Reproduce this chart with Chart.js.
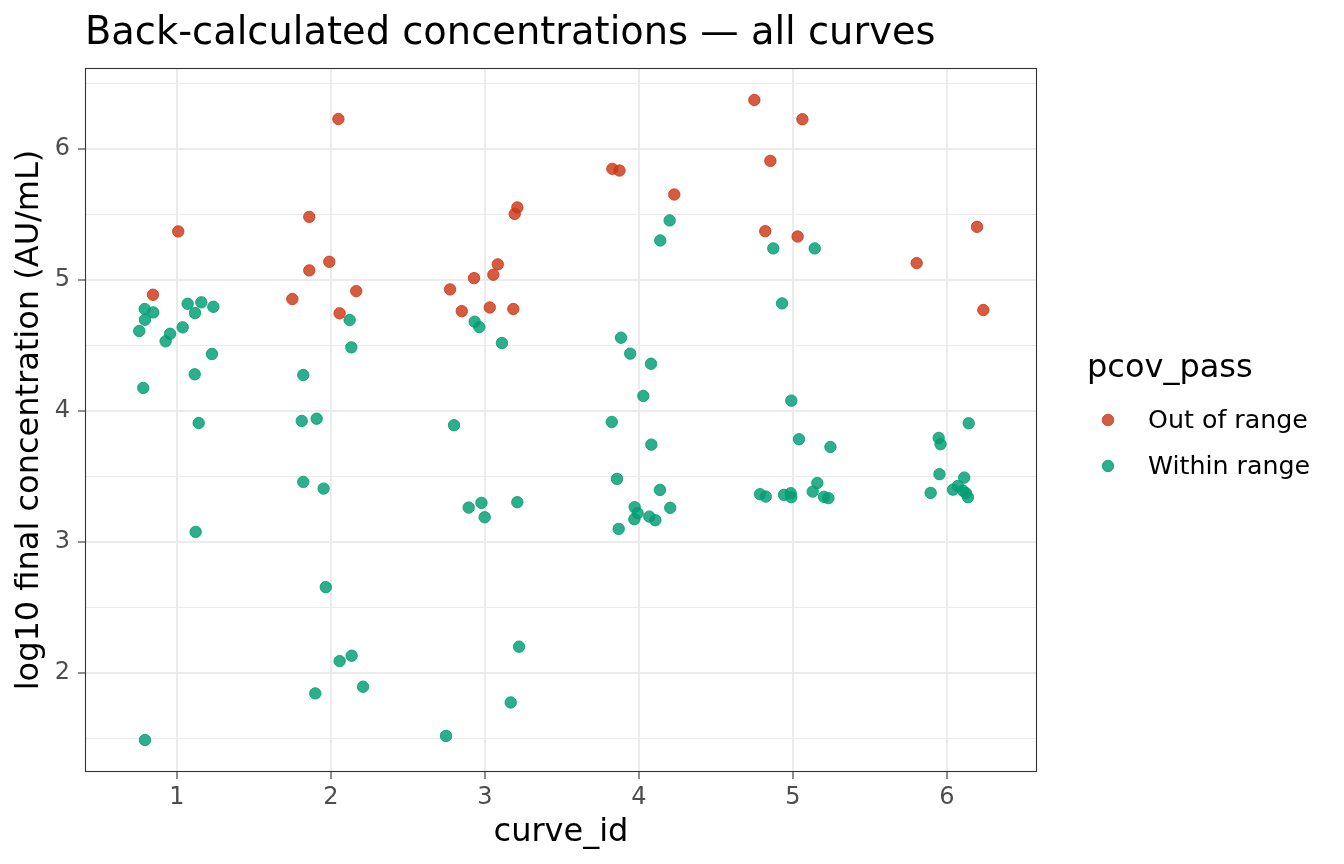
<!DOCTYPE html>
<html>
<head>
<meta charset="utf-8">
<script src="https://cdn.jsdelivr.net/npm/chart.js@4.4.1/dist/chart.umd.min.js"></script>
<style>
  html, body { margin: 0; padding: 0; background: #ffffff; }
  canvas { display: block; }
</style>
</head>
<body>
<canvas id="c" width="1344" height="864"></canvas>
<script>
// ---- data (jittered curve_id position, log10 concentration) ----
const seriesNames = ['Out of range', 'Within range'];
const outX = [0.844, 1.008,
  2.048, 1.859, 1.989, 1.859, 2.164, 1.749, 2.056,
  3.210, 3.193, 3.083, 3.054, 2.929, 2.773, 2.849, 3.031, 3.184,
  3.827, 3.873, 4.229,
  4.749, 5.061, 4.853, 4.820, 5.030,
  5.803, 6.195, 6.236];
const outY = [4.888, 5.372,
  6.231, 5.483, 5.140, 5.074, 4.916, 4.855, 4.746,
  5.555, 5.506, 5.120, 5.041, 5.015, 4.929, 4.763, 4.791, 4.779,
  5.850, 5.837, 5.654,
  6.376, 6.229, 5.911, 5.374, 5.333,
  5.130, 5.407, 4.771];
const inX = [0.790, 0.846, 0.792, 0.755, 0.955, 0.926, 1.037, 1.069, 1.158, 1.117, 1.236, 1.227, 1.115, 0.781, 1.141, 0.792, 1.121,
  2.121, 2.132, 1.820, 1.810, 1.907, 1.820, 1.952, 1.966, 2.056, 2.134, 1.898, 2.208,
  2.933, 2.963, 3.110, 2.799, 2.894, 2.977, 2.998, 3.210, 3.221, 3.167, 2.747,
  4.199, 4.138, 3.883, 3.943, 4.078, 4.028, 3.823, 4.080, 3.857, 4.136, 3.972, 3.991, 3.970, 4.067, 4.106, 4.203, 3.868,
  4.872, 5.141, 4.929, 4.989, 5.039, 5.243, 4.786, 4.823, 4.942, 4.985, 4.989, 5.158, 5.128, 5.201, 5.230,
  6.141, 5.946, 5.958, 5.951, 6.112, 5.894, 6.039, 6.071, 6.104, 6.123, 6.136];
const inY = [4.779, 4.753, 4.697, 4.611, 4.590, 4.532, 4.639, 4.819, 4.830, 4.748, 4.796, 4.435, 4.280, 4.176, 3.908, 1.486, 3.076,
  4.695, 4.486, 4.275, 3.924, 3.941, 3.458, 3.407, 2.654, 2.089, 2.130, 1.842, 1.893,
  4.682, 4.641, 4.519, 3.891, 3.262, 3.298, 3.188, 3.303, 2.199, 1.773, 1.517,
  5.456, 5.303, 4.560, 4.438, 4.361, 4.115, 3.916, 3.743, 3.481, 3.397, 3.265, 3.219, 3.173, 3.193, 3.165, 3.260, 3.099,
  5.242, 5.242, 4.822, 4.079, 3.784, 3.725, 3.364, 3.346, 3.359, 3.372, 3.341, 3.450, 3.384, 3.344, 3.334,
  3.906, 3.794, 3.746, 3.517, 3.491, 3.374, 3.399, 3.427, 3.391, 3.372, 3.341];

const xTickValues = [1, 2, 3, 4, 5, 6];
const xTickLabels = ['1', '2', '3', '4', '5', '6'];
const yTickValues = [1.5, 2, 2.5, 3, 3.5, 4, 4.5, 5, 5.5, 6, 6.5];
const yTickLabels = ['', '2', '', '3', '', '4', '', '5', '', '6', ''];

const titleText = 'Back-calculated concentrations \u2014 all curves';
const xTitle = 'curve_id';
const yTitle = 'log10 final concentration (AU/mL)';
const legendTitle = 'pcov_pass';

const FONT = '"DejaVu Sans", "Liberation Sans", sans-serif';
const colFill = ['rgba(204,56,22,0.82)', 'rgba(0,158,115,0.82)'];
const colEdge = ['rgba(204,56,22,0.85)', 'rgba(0,158,115,0.85)'];

function pts(xs, ys) { return xs.map((x, i) => ({ x: x, y: ys[i] })); }

const decor = {
  id: 'decor',
  afterDraw(chart) {
    const ctx = chart.ctx;
    const a = chart.chartArea;
    ctx.save();
    // panel border
    ctx.strokeStyle = '#333333';
    ctx.lineWidth = 1.1;
    ctx.strokeRect(a.left + 0.5, a.top + 0.5, a.right - a.left - 1, a.bottom - a.top - 1);
    // title
    ctx.fillStyle = '#000000';
    ctx.textBaseline = 'alphabetic';
    ctx.textAlign = 'left';
    ctx.font = '38.4px ' + FONT;
    ctx.fillText(titleText, 85, 44);
    // x title
    ctx.font = '32px ' + FONT;
    ctx.textAlign = 'center';
    ctx.fillText(xTitle, (a.left + a.right) / 2, 841);
    // y title
    ctx.save();
    ctx.translate(38, (a.top + a.bottom) / 2);
    ctx.rotate(-Math.PI / 2);
    ctx.fillText(yTitle, 0, 0);
    ctx.restore();
    // legend
    ctx.textAlign = 'left';
    ctx.font = '32px ' + FONT;
    ctx.fillText(legendTitle, 1087, 377);
    ctx.font = '25.3px ' + FONT;
    const ly = [420, 466];
    for (let i = 0; i < 2; i++) {
      ctx.beginPath();
      ctx.arc(1108, ly[i], 5.7, 0, Math.PI * 2);
      ctx.fillStyle = colFill[i];
      ctx.fill();
      ctx.lineWidth = 1;
      ctx.strokeStyle = colEdge[i];
      ctx.stroke();
      ctx.fillStyle = '#000000';
      ctx.textBaseline = 'middle';
      ctx.fillText(seriesNames[i], 1148, ly[i] + 1);
    }
    ctx.restore();
  }
};

new Chart(document.getElementById('c'), {
  type: 'scatter',
  data: {
    datasets: [
      { label: seriesNames[0], data: pts(outX, outY), backgroundColor: colFill[0], borderColor: colEdge[0], borderWidth: 1, pointRadius: 5.7, pointHoverRadius: 5.7 },
      { label: seriesNames[1], data: pts(inX, inY), backgroundColor: colFill[1], borderColor: colEdge[1], borderWidth: 1, pointRadius: 5.7, pointHoverRadius: 5.7 }
    ]
  },
  plugins: [decor],
  options: {
    responsive: false,
    animation: false,
    events: [],
    layout: { padding: { top: 68, right: 307, left: 0, bottom: 0 } },
    plugins: { legend: { display: false }, title: { display: false }, tooltip: { enabled: false } },
    scales: {
      x: {
        type: 'linear', min: 0.4026, max: 6.5844,
        afterBuildTicks: s => { s.ticks = xTickValues.map(v => ({ value: v })); },
        afterFit: s => { s.height = 92; },
        border: { display: false },
        grid: { color: '#ebebeb', lineWidth: 2, tickColor: '#333333', tickLength: 7, tickWidth: 1.1 },
        ticks: {
          color: '#4d4d4d', font: { family: FONT, size: 24 }, padding: 4,
          maxRotation: 0, autoSkip: false,
          callback: (v) => { const i = xTickValues.indexOf(v); return i >= 0 ? xTickLabels[i] : ''; }
        }
      },
      y: {
        type: 'linear', min: 1.2415, max: 6.6205,
        afterBuildTicks: s => { s.ticks = yTickValues.map(v => ({ value: v })); },
        afterFit: s => { s.width = 85; },
        border: { display: false },
        grid: {
          color: '#ebebeb',
          lineWidth: c => (c.tick && Number.isInteger(c.tick.value)) ? 2 : 1,
          tickColor: c => (c.tick && Number.isInteger(c.tick.value)) ? '#333333' : 'rgba(0,0,0,0)',
          tickLength: 7, tickWidth: 1.1
        },
        ticks: {
          color: '#4d4d4d', font: { family: FONT, size: 24 }, padding: 8,
          autoSkip: false,
          callback: (v) => { const i = yTickValues.indexOf(v); return i >= 0 ? yTickLabels[i] : ''; }
        }
      }
    }
  }
});
</script>
</body>
</html>
